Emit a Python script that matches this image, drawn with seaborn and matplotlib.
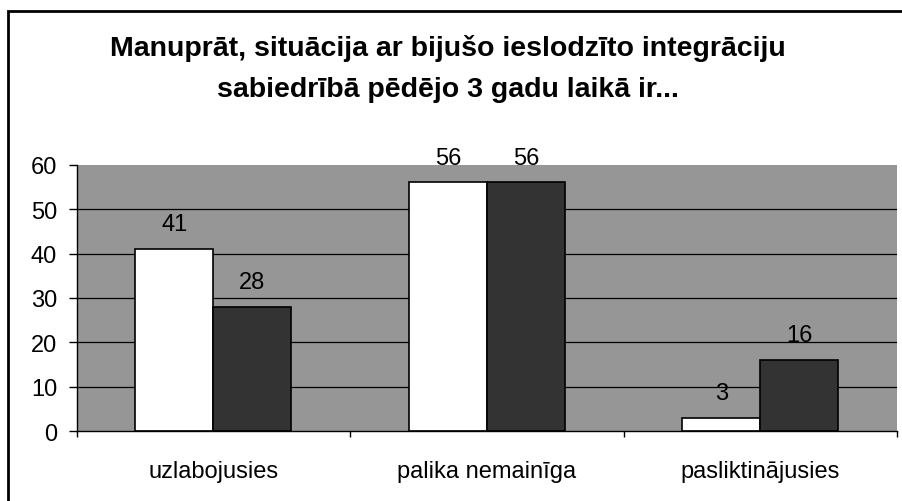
import pandas as pd
import matplotlib.pyplot as plt
import matplotlib.patches as patches
import seaborn as sns

# Dati no attēla (%)
kategorijas = ['uzlabojusies', 'palika nemainīga', 'pasliktinājusies']
grupa_1 = [41, 56, 3]
grupa_2 = [28, 56, 16]
grupu_nosaukumi = ['1. grupa', '2. grupa']
y_ticks = [0, 10, 20, 30, 40, 50, 60]

virsraksts_1 = 'Manuprāt, situācija ar bijušo ieslodzīto integrāciju'
virsraksts_2 = 'sabiedrībā pēdējo 3 gadu laikā ir...'

df = pd.DataFrame({
    'kategorija': kategorijas * 2,
    'vertiba': grupa_1 + grupa_2,
    'grupa': [grupu_nosaukumi[0]] * 3 + [grupu_nosaukumi[1]] * 3,
})

sns.set_style('white')
plt.rcParams['font.family'] = ['Liberation Sans', 'DejaVu Sans']
plt.rcParams['text.color'] = 'black'
plt.rcParams['xtick.color'] = 'black'
plt.rcParams['ytick.color'] = 'black'

fig = plt.figure(figsize=(9.02, 5.02), dpi=100)
ax = fig.add_axes([0.085, 0.139, 0.9095, 0.531])

sns.barplot(data=df, x='kategorija', y='vertiba', hue='grupa',
            palette=['#ffffff', '#333333'], saturation=1,
            edgecolor='black', linewidth=1.2, width=0.57,
            legend=False, ax=ax)

ax.set_facecolor('#969696')
ax.set_ylim(0, 60)
ax.set_xlim(-0.5, 2.5)
ax.set_yticks(y_ticks)
ax.set_xlabel('')
ax.set_ylabel('')

# režģa līnijas
ax.set_axisbelow(True)
ax.yaxis.grid(True, color='black', linewidth=0.9)
ax.yaxis.get_gridlines()[-1].set_visible(False)
ax.yaxis.get_gridlines()[0].set_visible(False)

for s in ['top', 'right']:
    ax.spines[s].set_visible(False)
for s in ['left', 'bottom']:
    ax.spines[s].set_color('black')
    ax.spines[s].set_linewidth(1.0)

ax.tick_params(axis='y', left=True, length=6, width=1, pad=8,
               labelsize=17, colors='black')
ax.tick_params(axis='x', which='major', length=0, pad=21, labelsize=17,
               labelcolor='black')
ax.set_xticks([-0.5, 0.5, 1.5, 2.5], minor=True)
ax.tick_params(axis='x', which='minor', bottom=True, length=4.5, width=1,
               color='black')

for cont in ax.containers:
    ax.bar_label(cont, fmt='%d', padding=10, fontsize=17, color='black')

fig.text(0.497, 1 - 49 / 502, virsraksts_1, ha='center', va='center',
         fontsize=20.5, fontweight='bold')
fig.text(0.497, 1 - 90 / 502, virsraksts_2, ha='center', va='center',
         fontsize=20.5, fontweight='bold')

# ārējais rāmis
fig.patches.append(patches.Rectangle((8 / 902, -0.1), 1.2, 1 - 12 / 502 + 0.1,
                                     transform=fig.transFigure, fill=False,
                                     edgecolor='black', linewidth=2))

fig.savefig('out.png', dpi=100)
